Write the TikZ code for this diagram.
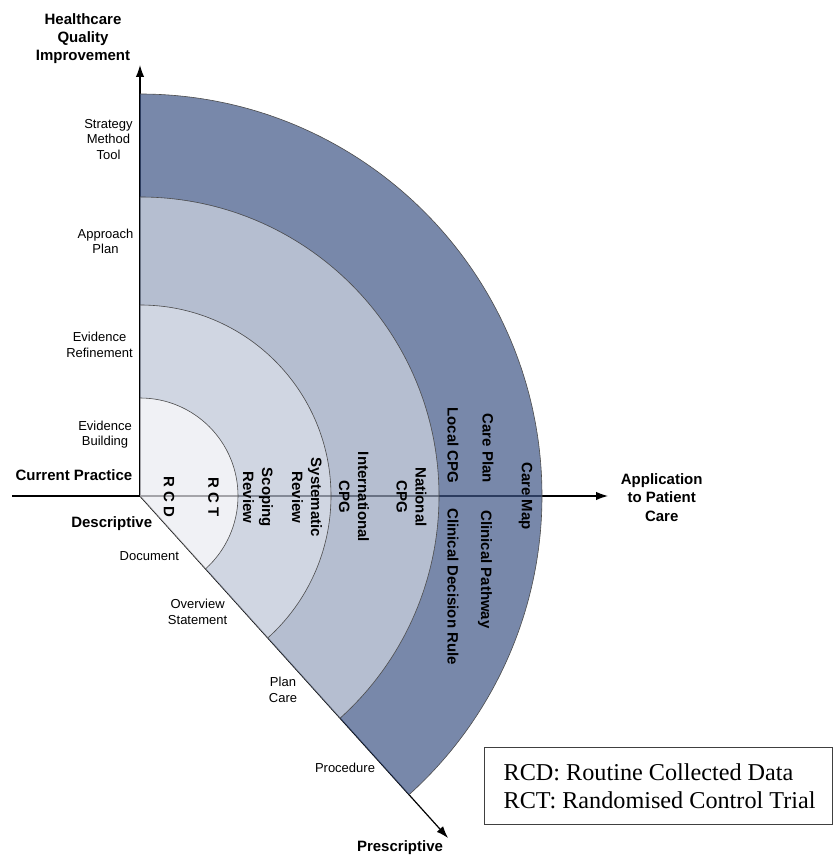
\documentclass[tikz,border=0pt]{standalone}
\usepackage{fontspec}
\setmainfont{Liberation Sans}
\newfontfamily\legendfont{Liberation Serif}
\usetikzlibrary{arrows.meta}
\definecolor{ringA}{RGB}{234,235,241}
\definecolor{ringB}{RGB}{188,196,214}
\definecolor{ringC}{RGB}{149,162,188}
\definecolor{ringD}{RGB}{62,85,134}
\newcommand{\myring}[3]{%
  \fill[fill=#3,fill opacity=0.7]
    ([shift={(O)}]90:#1) -- ([shift={(O)}]90:#2)
    arc[start angle=90,end angle=-48,radius=#2]
    -- ([shift={(O)}]-48:#1)
    arc[start angle=-48,end angle=90,radius=#1] -- cycle;}
\begin{document}
\begin{tikzpicture}[x=1pt,y=1pt,
  axis/.style={line width=1.2pt,black},
  axisarrow/.style={axis,-{Latex[length=12pt,width=8.5pt]}},
  arcline/.style={draw=black!70,line width=0.6pt},
  side/.style={font=\fontsize{13}{15.5}\selectfont,align=center,inner sep=0pt},
  head/.style={font=\bfseries\fontsize{15}{18.4}\selectfont,align=center,inner sep=0pt},
  ringlabel/.style={font=\bfseries\fontsize{15}{18.8}\selectfont,align=center,rotate=-90,inner sep=0pt},
  legendbox/.style={draw=black!75,line width=1pt}
]
\useasboundingbox (0,0) rectangle (833,857);
\coordinate (O) at (140,361);
\coordinate (L) at (12,361);
\coordinate (R) at (608,361);
\coordinate (T) at (140,792);
\coordinate (D) at (448,19);
% axes (under the translucent rings)
\draw[axis] (O) -- (L);
\draw[axisarrow] (O) -- (R);
\draw[axisarrow] (O) -- (T);
\draw[axisarrow] (O) -- (D);
% rings
\fill[fill=ringA,fill opacity=0.7] (O) -- ([shift={(O)}]90:98)
  arc[start angle=90,end angle=-48,radius=98] -- cycle;
\myring{98}{191}{ringB}
\myring{191}{299}{ringC}
\myring{299}{402}{ringD}
\foreach \r in {98,191,299,402}
  \draw[arcline] ([shift={(O)}]90:\r) arc[start angle=90,end angle=-48,radius=\r];
% axis titles
\node[head] (hqi) at (83,818.3) {Healthcare\\Quality\\Improvement};
\node[head] (cur) at (74,382) {Current Practice};
\node[head] (desc) at (111.7,333.7) {Descriptive};
\node[head] (pres) at (400,9.5) {Prescriptive};
\node[head] (app) at (661.7,359.7) {Application\\to Patient\\Care};
% side labels
\node[side] (s1) at (108.5,717.5) {Strategy\\Method\\Tool};
\node[side] (s2) at (105.5,615.5) {Approach\\Plan};
\node[side] (s3) at (99.5,512) {Evidence\\Refinement};
\node[side] (s4) at (105,422.3) {Evidence\\Building};
\node[side] (d1) at (149.3,301) {Document};
\node[side] (d2) at (197.6,245) {Overview\\Statement};
\node[side] (d3) at (283,167) {Plan\\Care};
\node[side] (d4) at (345,88.7) {Procedure};
% ring labels
\node[ringlabel] (rcd) at (169,360) {R C D};
\node[ringlabel] (rct) at (213.5,360) {R C T};
\node[ringlabel] (scop) at (258,359.5) {Scoping\\Review};
\node[ringlabel] (syst) at (307,359.5) {Systematic\\Review};
\node[ringlabel] (intl) at (354,360) {International\\CPG};
\node[ringlabel] (natl) at (411.5,360) {National\\CPG};
\node[ringlabel,anchor=east] (local) at (453,373.5) {Local CPG};
\node[ringlabel,anchor=west] (cdr) at (453,349) {Clinical Decision Rule};
\node[ringlabel,anchor=east] (cplan) at (488,374) {Care Plan};
\node[ringlabel,anchor=west] (cpath) at (485,347) {Clinical Pathway};
\node[ringlabel] (cmap) at (525.5,361) {Care Map};
% legend
\draw[legendbox] (484,109.7) rectangle (832.4,32);
\node[anchor=west,align=left,inner sep=0pt,
  font=\legendfont\fontsize{24.2}{28.3}\selectfont] (leg) at (503.5,70.5)
  {RCD: Routine Collected Data\\RCT: Randomised Control Trial};
\end{tikzpicture}
\end{document}
